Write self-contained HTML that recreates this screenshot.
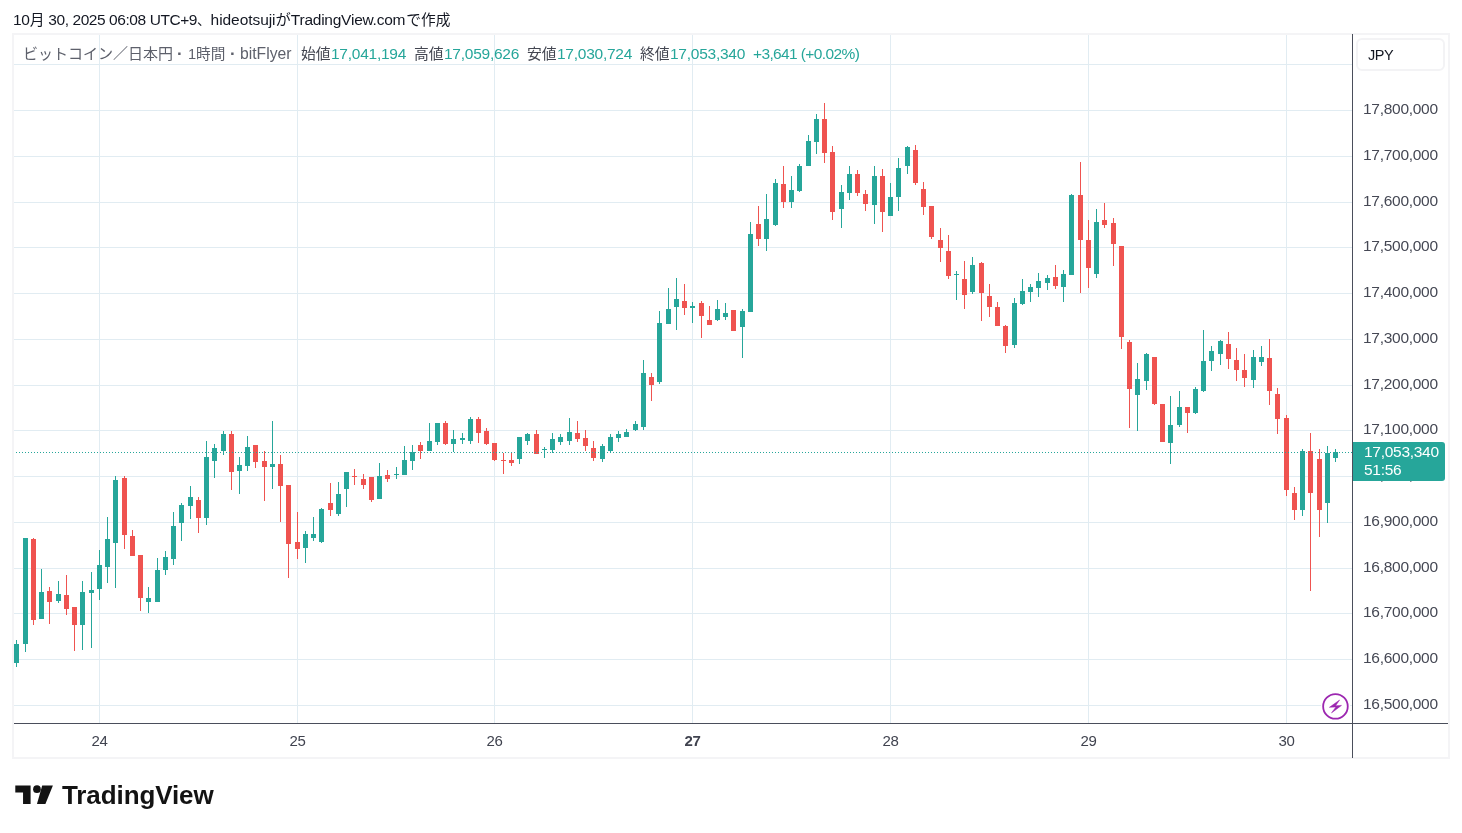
<!DOCTYPE html>
<html lang="ja"><head><meta charset="utf-8"><title>BTCJPY</title>
<style>
html,body{margin:0;padding:0;background:#fff;}
.hdr,.lg,.pl,.dl,.jpy,.tag,.logo{will-change:transform;}
body{width:1462px;height:833px;position:relative;overflow:hidden;font-family:"Liberation Sans","Noto Sans CJK JP",sans-serif;}
.hdr{position:absolute;left:13px;top:10px;font-size:15.5px;letter-spacing:-0.3px;line-height:20px;color:#131722;white-space:nowrap;}
.hdr .j{font-size:14.8px;letter-spacing:0;}
.frame{position:absolute;left:12px;top:33px;width:1434px;height:722px;border:2px solid #f4f4f6;}
.c{position:absolute;left:0;top:0;}
.lg{position:absolute;top:44px;height:20px;line-height:20px;font-size:15.5px;letter-spacing:-0.25px;white-space:nowrap;color:#434651;}
.lg.k{font-size:14.8px;letter-spacing:0;}
.lg.t{color:#5d606b;letter-spacing:0;}
.lg.v{color:#26a69a;}
.pl{position:absolute;left:1363px;width:80px;height:20px;line-height:20px;font-size:15.5px;letter-spacing:-0.28px;color:#454854;white-space:nowrap;}
.dl{position:absolute;top:731px;width:41px;text-align:center;height:20px;line-height:20px;font-size:15px;letter-spacing:-0.3px;color:#40434f;}
.dl.b{font-weight:bold;}
.jpy{position:absolute;left:1356px;top:38px;width:85px;height:29px;border:2px solid #f3f3f5;border-radius:6px;box-sizing:content-box;}
.jpy span{position:absolute;left:10px;top:5px;font-size:14.5px;letter-spacing:-0.4px;line-height:20px;color:#131722;}
.tag{position:absolute;left:1353px;top:442px;width:92px;height:39px;background:#26a69a;border-radius:0 3px 3px 0;color:#fff;font-size:15.5px;letter-spacing:-0.28px;}
.tag div{position:absolute;left:11px;height:18px;line-height:18px;white-space:nowrap;}
.logo{position:absolute;left:61.5px;top:778.5px;font-size:26px;line-height:32px;font-weight:bold;color:#131313;letter-spacing:-0.1px;}
</style></head><body>
<div class="hdr"><span class="a">10</span><span class="j">月</span><span class="a" style="letter-spacing:-0.43px"> 30, 2025 06:08 UTC+9</span><span class="j" style="font-size:13.6px">、</span><span class="a" style="letter-spacing:-0.06px">hideotsuji</span><span class="j" style="font-size:15.3px">が</span><span class="a" style="letter-spacing:-0.24px">TradingView.com</span><span class="j" style="font-size:14.7px;margin-left:1px">で作成</span></div>
<div class="frame"></div>
<svg class="c" width="1462" height="833" viewBox="0 0 1462 833" shape-rendering="crispEdges">
<path d="M14 64.5H1352M14 110.5H1352M14 156.5H1352M14 202.5H1352M14 247.5H1352M14 293.5H1352M14 339.5H1352M14 385.5H1352M14 430.5H1352M14 476.5H1352M14 522.5H1352M14 568.5H1352M14 613.5H1352M14 659.5H1352M14 705.5H1352M99.5 35V723M297.5 35V723M494.5 35V723M692.5 35V723M890.5 35V723M1088.5 35V723M1286.5 35V723" stroke="#e1ecf2" stroke-width="1" fill="none"/>
<path d="M16 640h1v27h-1zM14 644h5v19h-5zM25 538h1v114h-1zM23 538h5v106h-5zM41 569h1v50h-1zM39 592h5v27h-5zM58 581h1v22h-1zM56 594h5v7h-5zM82 581h1v69h-1zM80 592h5v33h-5zM91 572h1v76h-1zM89 590h5v3h-5zM99 550h1v50h-1zM97 565h5v24h-5zM107 517h1v66h-1zM105 539h5v28h-5zM115 476h1v112h-1zM113 480h5v63h-5zM148 587h1v26h-1zM146 598h5v4h-5zM157 558h1v44h-1zM155 570h5v32h-5zM165 551h1v24h-1zM163 557h5v13h-5zM173 512h1v53h-1zM171 526h5v33h-5zM181 503h1v38h-1zM179 505h5v18h-5zM190 486h1v33h-1zM188 497h5v9h-5zM206 441h1v84h-1zM204 457h5v61h-5zM214 444h1v34h-1zM212 448h5v13h-5zM223 431h1v24h-1zM221 434h5v17h-5zM239 457h1v37h-1zM237 465h5v6h-5zM247 436h1v35h-1zM245 447h5v19h-5zM272 421h1v68h-1zM270 464h5v3h-5zM305 531h1v32h-1zM303 534h5v14h-5zM313 517h1v24h-1zM311 534h5v4h-5zM321 508h1v35h-1zM319 509h5v33h-5zM338 482h1v34h-1zM336 494h5v20h-5zM346 472h1v35h-1zM344 472h5v17h-5zM379 463h1v36h-1zM377 476h5v23h-5zM396 467h1v12h-1zM394 474h5v1h-5zM404 446h1v29h-1zM402 460h5v15h-5zM412 445h1v25h-1zM410 452h5v9h-5zM429 423h1v28h-1zM427 441h5v10h-5zM437 423h1v22h-1zM435 423h5v19h-5zM453 430h1v22h-1zM451 439h5v5h-5zM462 433h1v11h-1zM460 438h5v2h-5zM470 417h1v27h-1zM468 419h5v22h-5zM519 437h1v27h-1zM517 437h5v22h-5zM527 433h1v12h-1zM525 434h5v7h-5zM544 447h1v11h-1zM542 449h5v1h-5zM552 433h1v20h-1zM550 439h5v11h-5zM560 434h1v11h-1zM558 437h5v5h-5zM569 418h1v27h-1zM567 432h5v9h-5zM602 444h1v18h-1zM600 446h5v13h-5zM610 434h1v19h-1zM608 437h5v14h-5zM618 431h1v11h-1zM616 434h5v4h-5zM626 429h1v8h-1zM624 432h5v5h-5zM635 421h1v10h-1zM633 424h5v6h-5zM643 360h1v70h-1zM641 373h5v54h-5zM659 311h1v73h-1zM657 323h5v59h-5zM668 288h1v36h-1zM666 309h5v15h-5zM676 278h1v52h-1zM674 299h5v8h-5zM692 302h1v21h-1zM690 306h5v2h-5zM717 300h1v21h-1zM715 309h5v11h-5zM725 303h1v17h-1zM723 313h5v4h-5zM742 309h1v49h-1zM740 311h5v16h-5zM750 222h1v90h-1zM748 234h5v78h-5zM766 194h1v57h-1zM764 219h5v20h-5zM775 179h1v47h-1zM773 183h5v42h-5zM791 176h1v32h-1zM789 190h5v12h-5zM799 164h1v28h-1zM797 166h5v25h-5zM808 135h1v31h-1zM806 141h5v25h-5zM816 114h1v40h-1zM814 119h5v23h-5zM841 185h1v43h-1zM839 192h5v17h-5zM849 166h1v34h-1zM847 174h5v19h-5zM874 166h1v58h-1zM872 176h5v29h-5zM890 183h1v33h-1zM888 197h5v19h-5zM898 158h1v53h-1zM896 168h5v29h-5zM907 146h1v28h-1zM905 147h5v19h-5zM956 271h1v29h-1zM954 274h5v1h-5zM972 257h1v37h-1zM970 265h5v27h-5zM1014 298h1v50h-1zM1012 303h5v42h-5zM1022 279h1v26h-1zM1020 291h5v13h-5zM1030 284h1v18h-1zM1028 287h5v5h-5zM1038 273h1v24h-1zM1036 281h5v7h-5zM1047 275h1v15h-1zM1045 278h5v5h-5zM1063 270h1v32h-1zM1061 274h5v13h-5zM1071 194h1v81h-1zM1069 195h5v80h-5zM1096 209h1v69h-1zM1094 222h5v52h-5zM1137 363h1v68h-1zM1135 379h5v16h-5zM1146 353h1v37h-1zM1144 354h5v27h-5zM1170 396h1v68h-1zM1168 425h5v18h-5zM1179 391h1v36h-1zM1177 407h5v18h-5zM1195 387h1v27h-1zM1193 389h5v24h-5zM1203 330h1v62h-1zM1201 361h5v30h-5zM1211 346h1v25h-1zM1209 351h5v10h-5zM1220 340h1v25h-1zM1218 341h5v13h-5zM1253 350h1v38h-1zM1251 357h5v23h-5zM1261 346h1v20h-1zM1259 357h5v5h-5zM1302 449h1v67h-1zM1300 451h5v59h-5zM1327 446h1v77h-1zM1325 453h5v50h-5zM1335 449h1v13h-1zM1333 452h5v6h-5z" fill="#26a69a"/>
<path d="M33 538h1v87h-1zM31 539h5v81h-5zM49 587h1v37h-1zM47 591h5v11h-5zM66 575h1v40h-1zM64 595h5v14h-5zM74 607h1v44h-1zM72 607h5v18h-5zM124 476h1v73h-1zM122 478h5v57h-5zM132 530h1v26h-1zM130 536h5v20h-5zM140 555h1v56h-1zM138 555h5v43h-5zM198 497h1v36h-1zM196 500h5v18h-5zM231 431h1v59h-1zM229 434h5v38h-5zM255 445h1v23h-1zM253 445h5v17h-5zM264 451h1v50h-1zM262 461h5v6h-5zM280 455h1v67h-1zM278 464h5v22h-5zM288 485h1v93h-1zM286 485h5v59h-5zM297 512h1v47h-1zM295 542h5v7h-5zM330 483h1v33h-1zM328 503h5v7h-5zM354 469h1v16h-1zM352 476h5v1h-5zM363 474h1v15h-1zM361 479h5v6h-5zM371 477h1v25h-1zM369 477h5v23h-5zM387 470h1v12h-1zM385 475h5v4h-5zM420 442h1v17h-1zM418 445h5v6h-5zM445 421h1v24h-1zM443 423h5v21h-5zM478 417h1v26h-1zM476 419h5v14h-5zM486 428h1v17h-1zM484 431h5v13h-5zM494 443h1v18h-1zM492 443h5v17h-5zM503 453h1v21h-1zM501 460h5v1h-5zM511 453h1v13h-1zM509 460h5v3h-5zM536 430h1v24h-1zM534 434h5v20h-5zM577 421h1v21h-1zM575 433h5v6h-5zM585 430h1v21h-1zM583 438h5v8h-5zM593 441h1v20h-1zM591 448h5v10h-5zM651 373h1v28h-1zM649 377h5v8h-5zM684 284h1v31h-1zM682 301h5v7h-5zM701 301h1v37h-1zM699 303h5v13h-5zM709 306h1v19h-1zM707 320h5v5h-5zM733 310h1v21h-1zM731 310h5v21h-5zM758 206h1v40h-1zM756 224h5v15h-5zM783 166h1v42h-1zM781 184h5v18h-5zM824 103h1v60h-1zM822 119h5v34h-5zM832 146h1v74h-1zM830 152h5v60h-5zM857 170h1v26h-1zM855 174h5v19h-5zM865 190h1v21h-1zM863 194h5v10h-5zM882 169h1v63h-1zM880 176h5v36h-5zM915 145h1v40h-1zM913 150h5v33h-5zM923 182h1v33h-1zM921 189h5v18h-5zM931 206h1v33h-1zM929 206h5v31h-5zM940 228h1v34h-1zM938 240h5v8h-5zM948 235h1v44h-1zM946 251h5v25h-5zM964 261h1v48h-1zM962 279h5v16h-5zM981 262h1v59h-1zM979 263h5v30h-5zM989 284h1v33h-1zM987 296h5v11h-5zM997 302h1v24h-1zM995 307h5v19h-5zM1005 325h1v28h-1zM1003 326h5v20h-5zM1055 265h1v24h-1zM1053 277h5v9h-5zM1080 162h1v131h-1zM1078 195h5v45h-5zM1088 220h1v68h-1zM1086 240h5v28h-5zM1104 203h1v25h-1zM1102 220h5v5h-5zM1113 218h1v48h-1zM1111 223h5v21h-5zM1121 246h1v103h-1zM1119 246h5v91h-5zM1129 340h1v88h-1zM1127 342h5v47h-5zM1154 357h1v48h-1zM1152 357h5v47h-5zM1162 404h1v38h-1zM1160 404h5v38h-5zM1187 407h1v26h-1zM1185 407h5v6h-5zM1228 332h1v37h-1zM1226 344h5v15h-5zM1236 348h1v33h-1zM1234 360h5v10h-5zM1244 354h1v33h-1zM1242 370h5v8h-5zM1269 339h1v66h-1zM1267 358h5v33h-5zM1277 388h1v46h-1zM1275 394h5v25h-5zM1286 415h1v81h-1zM1284 418h5v72h-5zM1294 487h1v33h-1zM1292 493h5v17h-5zM1310 433h1v158h-1zM1308 451h5v42h-5zM1319 449h1v88h-1zM1317 459h5v51h-5z" fill="#ef5350"/>
<path d="M16 452.5H1352" stroke="#26a69a" stroke-width="1" stroke-dasharray="1 2" fill="none"/>
<path d="M1352.5 34V758M14 723.5H1448" stroke="#4a4e5b" stroke-width="1" fill="none"/>
</svg>
<div class="lg t" style="left:23px;font-size:15px">ビットコイン／日本円</div><div class="lg t" style="left:176.5px;font-size:17px;font-weight:bold">·</div><div class="lg t" style="left:188px;font-size:14.6px">1時間</div><div class="lg t" style="left:229.5px;font-size:17px;font-weight:bold">·</div><div class="lg t" style="left:240px;font-size:15.7px">bitFlyer</div>
<div class="lg k" style="left:301px">始値</div><div class="lg v" style="left:331px">17,041,194</div>
<div class="lg k" style="left:414px">高値</div><div class="lg v" style="left:444px">17,059,626</div>
<div class="lg k" style="left:527px">安値</div><div class="lg v" style="left:557px">17,030,724</div>
<div class="lg k" style="left:640px">終値</div><div class="lg v" style="left:670px">17,053,340</div>
<div class="lg v" style="left:753px;letter-spacing:-0.62px">+3,641 (+0.02%)</div>
<div class="pl" style="top:99px">17,800,000</div><div class="pl" style="top:145px">17,700,000</div><div class="pl" style="top:191px">17,600,000</div><div class="pl" style="top:236px">17,500,000</div><div class="pl" style="top:282px">17,400,000</div><div class="pl" style="top:328px">17,300,000</div><div class="pl" style="top:374px">17,200,000</div><div class="pl" style="top:419px">17,100,000</div><div class="pl" style="top:465px">17,000,000</div><div class="pl" style="top:511px">16,900,000</div><div class="pl" style="top:557px">16,800,000</div><div class="pl" style="top:602px">16,700,000</div><div class="pl" style="top:648px">16,600,000</div><div class="pl" style="top:694px">16,500,000</div>
<div class="dl" style="left:79px">24</div><div class="dl" style="left:277px">25</div><div class="dl" style="left:474px">26</div><div class="dl b" style="left:672px">27</div><div class="dl" style="left:870px">28</div><div class="dl" style="left:1068px">29</div><div class="dl" style="left:1266px">30</div>
<div class="jpy"><span>JPY</span></div>
<div class="tag"><div style="top:1px">17,053,340</div><div style="top:19px">51:56</div></div>
<svg class="c" width="1462" height="833" viewBox="0 0 1462 833">
<circle cx="1335.5" cy="706.4" r="14.6" fill="#fff"/>
<circle cx="1335.45" cy="706.4" r="12.3" fill="#fff" stroke="#9c27b0" stroke-width="1.8"/>
<path d="M1339.6 700L1329.4 707.35L1335.9 706.95L1331.5 712.9L1341.5 705.4L1335.6 705.7Z" fill="#9c27b0" stroke="#9c27b0" stroke-width="0.5" stroke-linejoin="round"/>
<g fill="#131313"><path d="M15.3 785.4H30.6V804H23.05V792.55H15.3Z"/><circle cx="36.97" cy="789.2" r="3.84"/><path d="M42.2 785.4H52.9L45.4 804H36.97Z"/></g>
</svg>
<div class="logo">TradingView</div>
</body></html>
